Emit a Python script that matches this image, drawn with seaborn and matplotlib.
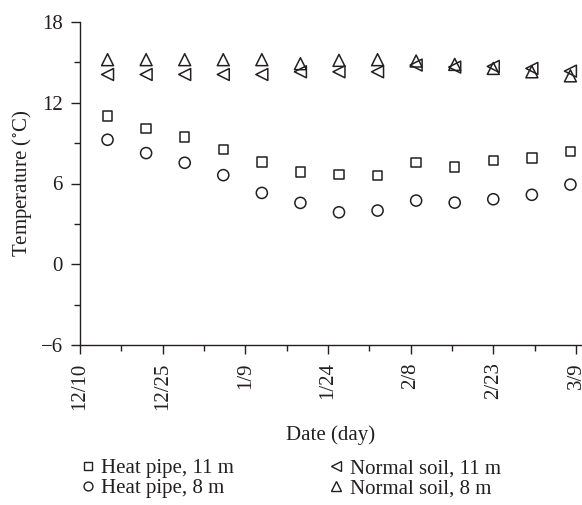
import matplotlib
matplotlib.use("Agg")
import matplotlib.pyplot as plt
from matplotlib.lines import Line2D
from matplotlib.ticker import MultipleLocator
import seaborn as sns
import pandas as pd

# Day offsets from 12/10
days = [5, 12, 19, 26, 33, 40, 47, 54, 61, 68, 75, 82, 89]
heat_pipe_11m = [11.0, 10.07, 9.45, 8.53, 7.59, 6.87, 6.67, 6.6, 7.56, 7.24, 7.69, 7.91, 8.38]
heat_pipe_8m = [9.25, 8.26, 7.54, 6.62, 5.3, 4.56, 3.86, 3.99, 4.73, 4.58, 4.83, 5.16, 5.92]
normal_soil_11m = [14.1, 14.1, 14.1, 14.1, 14.1, 14.3, 14.3, 14.3, 14.8, 14.65, 14.7, 14.55, 14.35]
normal_soil_8m = [15.2, 15.2, 15.2, 15.2, 15.2, 14.9, 15.15, 15.2, 15.1, 14.85, 14.55, 14.3, 14.0]

x_ticks = [0, 15, 30, 45, 60, 75, 90]
x_tick_labels = ["12/10", "12/25", "1/9", "1/24", "2/8", "2/23", "3/9"]
y_ticks = [-6, 0, 6, 12, 18]
y_tick_labels = ["\u22126", "0", "6", "12", "18"]

series = [
    ("Heat pipe, 11 m", heat_pipe_11m, "s", 6.8),
    ("Heat pipe, 8 m", heat_pipe_8m, "o", 8.0),
    ("Normal soil, 11 m", normal_soil_11m, "<", 8.6),
    ("Normal soil, 8 m", normal_soil_8m, "^", 8.6),
]

sns.set_theme(style="ticks")
plt.rcParams["font.family"] = ["Liberation Serif", "DejaVu Serif"]
plt.rcParams["mathtext.fontset"] = "stix"

FS = 15
ink = "#231f20"
fig = plt.figure(figsize=(5.82, 5.05), dpi=100)
ax = fig.add_axes([80 / 582, 1 - 345 / 505, 1 - 80 / 582, (345 - 22) / 505])

handles = []
for label, vals, mk, ms in series:
    df = pd.DataFrame({"day": days, "temp": vals})
    sns.scatterplot(data=df, x="day", y="temp", marker=mk, s=ms ** 2, ax=ax, legend=False)
    coll = ax.collections[-1]
    coll.set_facecolor("none")
    coll.set_edgecolor(ink)
    coll.set_linewidth(1.1)
    handles.append(Line2D([], [], ls="none", marker=mk, markersize=ms * 0.8,
                          markerfacecolor="none", markeredgecolor=ink,
                          markeredgewidth=1.0, label=label))

ax.set_xlim(0, 91.1)
ax.set_ylim(-6, 18)
ax.set_xticks(x_ticks)
ax.set_xticklabels(x_tick_labels, rotation=90)
ax.set_yticks(y_ticks)
ax.set_yticklabels(y_tick_labels)
ax.xaxis.set_minor_locator(MultipleLocator(7.5))
ax.yaxis.set_minor_locator(MultipleLocator(3))
ax.tick_params(which="major", length=6.5, width=1.0, color=ink, labelsize=FS, labelcolor=ink, pad=6)
ax.tick_params(which="minor", length=4, width=1.0, color=ink)
for s in ["top", "right"]:
    ax.spines[s].set_visible(False)
for s in ["left", "bottom"]:
    ax.spines[s].set_color(ink)
    ax.spines[s].set_linewidth(1.0)

ax.set_xlabel("Date (day)", fontsize=FS, color=ink, labelpad=11)
ax.set_ylabel("Temperature ($^{\\circ}$C)", fontsize=FS, color=ink, labelpad=5)

fig.legend(handles=handles, ncol=2, loc="upper left", bbox_to_anchor=(69 / 582, 1 - 446 / 505),
           frameon=False, fontsize=FS, handletextpad=0.35, columnspacing=4.6,
           labelspacing=0.02, handlelength=0.6, labelcolor=ink, borderpad=0.1)

fig.savefig("out.png", dpi=100)
